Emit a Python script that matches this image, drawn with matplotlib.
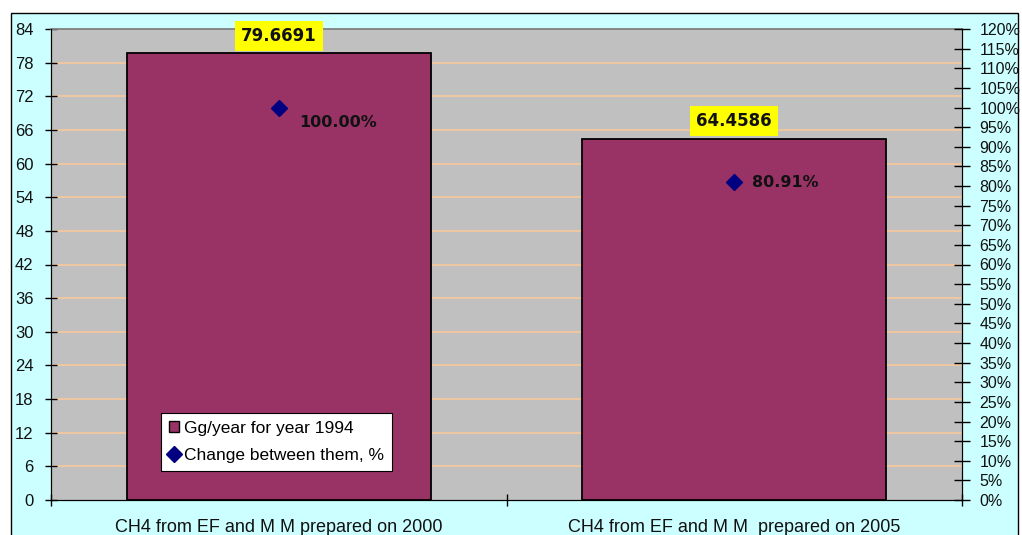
import matplotlib.pyplot as plt
from matplotlib.patches import Rectangle, Patch
from matplotlib.lines import Line2D
from matplotlib.ticker import MultipleLocator, FuncFormatter, FixedLocator

# ── data ───────────────────────────────────────────────────────────────────
categories = ["CH4 from EF and M M prepared on 2000",
              "CH4 from EF and M M  prepared on 2005"]
emissions = [79.6691, 64.4586]          # Gg/year for year 1994
change_pct = [1.0000, 0.8091]           # change between them
emission_labels = ["79.6691", "64.4586"]
change_labels = ["100.00%", "80.91%"]

# ── style ──────────────────────────────────────────────────────────────────
BAR_COLOR = "#993366"
DOT_COLOR = "#000080"
PLOT_BG = "#C0C0C0"
CHART_BG = "#CCFFFF"
GRID_COLOR = "#F8C89C"
FONT = "Liberation Sans"
LABEL_FONT = "DejaVu Sans"

fig = plt.figure(figsize=(10.22, 5.35), dpi=100)
fig.patch.set_facecolor("white")
fig.add_artist(Rectangle((11 / 1022, -0.1), 1007 / 1022, 1 - 13 / 535 + 0.1,
                         transform=fig.transFigure, facecolor=CHART_BG,
                         edgecolor="black", linewidth=1, zorder=-10))

ax = fig.add_axes([51 / 1022, 1 - 500 / 535, 911 / 1022, 471 / 535])
ax.set_facecolor(PLOT_BG)
x = list(range(len(categories)))
bars = ax.bar(x, emissions, width=0.667, color=BAR_COLOR, edgecolor="black",
              linewidth=1.3, zorder=3)

ax.set_xlim(-0.5, 1.5)
ax.set_ylim(0, 84)
ax.yaxis.set_major_locator(MultipleLocator(6))
for v in range(6, 84, 6):
    ax.axhline(v, color=GRID_COLOR, linewidth=1.2, zorder=1)

ax.xaxis.set_major_locator(FixedLocator([-0.5, 0.5, 1.5]))
ax.xaxis.set_minor_locator(FixedLocator(x))
ax.set_xticklabels([], minor=False)
ax.set_xticklabels(categories, minor=True, fontsize=13, family=FONT, color="#111111")
ax.tick_params(axis="x", which="major", direction="inout", length=8, width=1)
ax.tick_params(axis="x", which="minor", length=0, pad=14)
ax.tick_params(axis="y", direction="inout", length=9, width=1, pad=8,
               labelsize=12, labelcolor="#111111")
for t in ax.get_yticklabels():
    t.set_family(FONT)

for s in ("left", "bottom", "right"):
    ax.spines[s].set_color("black")
ax.spines["top"].set_color("#808080")
ax.spines["top"].set_linewidth(1.3)

for b, lab in zip(bars, emission_labels):
    ax.annotate(lab, (b.get_x() + b.get_width() / 2, b.get_height()),
                xytext=(0, 6), textcoords="offset points", ha="center", va="bottom",
                fontsize=12, fontweight="bold", family=LABEL_FONT, color="#111111",
                bbox=dict(boxstyle="square,pad=0.36", facecolor="yellow", edgecolor="none"),
                annotation_clip=False, zorder=6)

# ── secondary axis: percent change ─────────────────────────────────────────
ax2 = ax.twinx()
ax2.set_ylim(0, 1.2)
ax2.yaxis.set_major_locator(MultipleLocator(0.05))
ax2.yaxis.set_major_formatter(FuncFormatter(lambda v, _: f"{round(v * 100):d}%"))
ax2.tick_params(axis="y", direction="inout", length=11, width=1, pad=7,
                labelsize=11.5, labelcolor="#111111")
for t in ax2.get_yticklabels():
    t.set_family(FONT)
ax2.spines["top"].set_visible(False)
ax2.plot(x, change_pct, linestyle="none", marker="D", markersize=8,
         color=DOT_COLOR, zorder=5)

offsets = [(15, -11), (13, 0)]
for xi, yi, lab, off in zip(x, change_pct, change_labels, offsets):
    ax2.annotate(lab, (xi, yi), xytext=off, textcoords="offset points",
                 ha="left", va="center", fontsize=11.5, fontweight="bold",
                 family=LABEL_FONT, color="#111111")

handles = [Patch(facecolor=BAR_COLOR, edgecolor="black", linewidth=1),
           Line2D([], [], linestyle="none", marker="D", markersize=8, color=DOT_COLOR)]
leg = ax2.legend(handles, ["Gg/year for year 1994", "Change between them, %"],
                 loc="upper left", bbox_to_anchor=(161 / 1022, 1 - 413 / 535),
                 bbox_transform=fig.transFigure, frameon=True, fancybox=False,
                 edgecolor="black", facecolor="white", framealpha=1,
                 prop={"family": FONT, "size": 12.5}, handlelength=0.6,
                 handleheight=0.6, handletextpad=0.3, borderpad=0.45,
                 labelspacing=0.7, borderaxespad=0)
leg.get_frame().set_linewidth(0.8)

fig.savefig("out.png", dpi=100)
